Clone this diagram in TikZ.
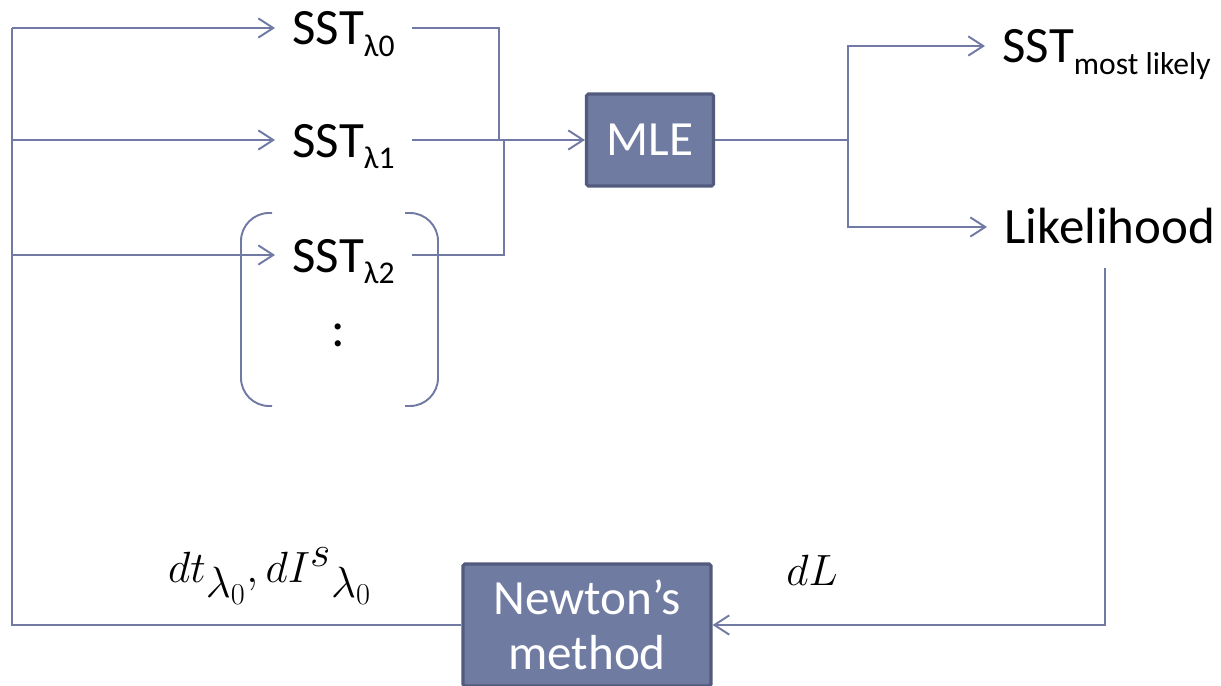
\documentclass[tikz,border=0pt]{standalone}
\usepackage[no-math]{fontspec}
\setmainfont{Carlito}
\usepackage{tikz}
\usetikzlibrary{arrows.meta,calc,positioning}
\definecolor{wire}{RGB}{112,122,164}
\definecolor{boxfill}{RGB}{111,123,161}
\definecolor{boxedge}{RGB}{82,91,125}
\newcommand{\lsub}[1]{\raisebox{-6.5pt}{\fontsize{18}{20}\selectfont #1}}
\tikzset{
	flow/.style={draw=wire, line width=1.1pt},
	ar/.style={flow, -{Straight Barb[length=8.5pt,width=11pt,line width=1.1pt]}},
	lbl/.style={font=\fontsize{29}{32}\selectfont, inner sep=0pt, outer xsep=10pt, anchor=base west},
	proc/.style={draw=boxedge, fill=boxfill, line width=1.8pt, rounded corners=1pt,
		text=white, font=\fontsize{28}{31}\selectfont, align=center, inner sep=0pt},
	eq/.style={font=\fontsize{28}{32}\selectfont, inner sep=0pt}
}

\begin{document}
\begin{tikzpicture}[x=0.02cm, y=-0.02cm]
	\clip (0,0) rectangle (1221,686);
	\coordinate (in0) at (12,28);
	\coordinate (in1) at (12,140);
	\coordinate (in2) at (12,255);
	\node[lbl] (sst0) at (275,45) {SST\lsub{λ0}};
	\node[lbl] (sst1) at (275,157) {SST\lsub{λ1}};
	\node[lbl] (sst2) at (275,272) {SST\lsub{λ2}};
	\node[lbl, anchor=center] (more) at (338,335) {:};
	\node[proc, minimum width=2.54cm, minimum height=1.84cm] (mle) at (650,140) {MLE};
	\node[lbl] (best) at (985,63) {SST\lsub{most likely}};
	\node[lbl] (lik) at (987,243) {Likelihood};
	\node[proc, minimum width=4.96cm, minimum height=2.44cm] (newton) at (587,625) {Newton’s\\method};
	\node[eq, font=\fontsize{33}{36}\selectfont] (dpar) at (270,576) {$dt_{\lambda_0}, dI^{s}{}_{\lambda_0}$};
	\node[eq] (dL) at (812,570) {$dL$};
	\coordinate (jA) at (499,140);
	\coordinate (jB) at (504,140);
	\coordinate (split) at (848,140);
	\coordinate (down) at (1105,268);

	% feedback into the runs
	\draw[flow] (newton.west) -| (in0);
	\foreach \i in {0,1,2}
		\draw[ar] (in\i) -- (in\i -| sst\i.west);
	\draw[flow] (sst0.east |- in0) -| (jA);
	\draw[ar] (sst1.east |- mle.west) -- (mle.west);
	\draw[flow] (sst2.east |- in2) -| (jB);
	% parentheses round the remaining runs
	\draw[flow, rounded corners=16pt] (272,213) -| (241,406) -- (272,406);
	\draw[flow, rounded corners=16pt] (405,213) -| (438,406) -- (405,406);

	\draw[flow] (mle.east) -- (split);
	\draw[ar] (split) |- ($(best.base west)+(0,-17)$);
	\draw[ar] (split) |- ($(lik.base west)+(0,-16)$);
	\draw[ar] (down) |- (newton.east);
\end{tikzpicture}
\end{document}
